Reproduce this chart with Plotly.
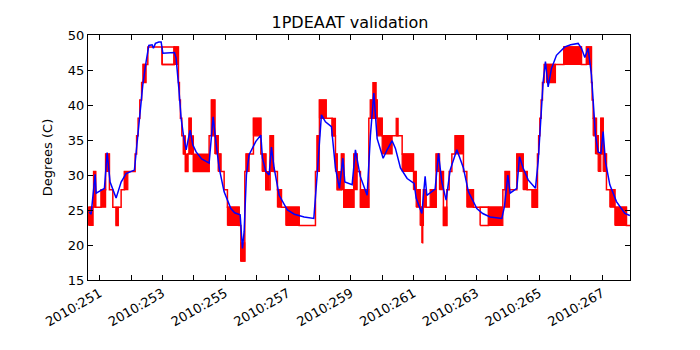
import plotly.graph_objects as go

# ---- data: telemetry (red, stepped) ----
red_day = [250.650, 250.809, 250.873, 251.048, 251.191, 251.312, 251.420, 251.525, 251.589, 251.685,
           251.790, 252.131, 252.178, 252.226, 252.280, 252.338, 252.385, 252.535, 252.990, 253.373,
           253.510, 253.541, 253.573, 253.618, 253.669, 253.732, 253.809, 253.850, 253.914, 253.987,
           254.487, 254.561, 254.669, 254.774, 254.860, 254.965, 255.070, 255.443, 255.497, 255.624,
           255.666, 255.898, 256.134, 256.293, 256.430, 256.535, 256.662, 256.790, 257.354, 257.873,
           257.927, 258.000, 258.213, 258.404, 258.510, 258.564, 258.701, 258.777, 259.096, 259.201,
           259.306, 259.573, 259.624, 259.838, 259.997, 260.634, 260.994, 261.080, 261.207, 261.312,
           261.398, 261.717, 261.822, 261.949, 262.057, 262.131, 262.217, 262.322, 262.586, 262.694,
           262.904, 263.841, 263.914, 264.051, 264.287, 264.487, 264.615, 264.774, 264.943, 264.981,
           265.019, 265.061, 265.102, 265.156, 265.783, 266.344, 266.503, 266.662, 266.685, 266.717,
           266.822, 266.876, 266.962, 267.035, 267.140, 267.408, 267.777, 267.895]
red_temp = [25.4, 30.5, 25.4, 27.9, 33.0, 27.9, 25.4, 22.8, 25.4, 27.9,
            30.5, 33.0, 35.6, 38.1, 40.7, 43.2, 45.8, 48.3, 45.8, 48.3,
            43.2, 40.7, 38.1, 35.6, 33.0, 30.5, 33.0, 38.1, 33.0, 30.5,
            35.6, 40.7, 35.6, 33.0, 30.5, 27.9, 25.4, 22.8, 17.7, 30.5,
            33.0, 38.1, 33.0, 27.9, 35.6, 30.5, 27.9, 25.4, 22.8, 30.5,
            35.6, 40.7, 38.1, 35.6, 33.0, 27.9, 33.0, 25.4, 33.0, 30.5,
            25.4, 38.1, 40.7, 38.1, 35.6, 33.0, 30.5, 27.9, 25.4, 27.9,
            25.4, 33.0, 30.5, 22.8, 27.9, 30.5, 33.0, 35.6, 30.5, 27.9,
            25.4, 27.9, 30.5, 27.9, 33.0, 30.5, 27.9, 25.4, 33.0, 35.6,
            38.1, 40.7, 43.2, 45.8, 48.3, 45.8, 48.3, 43.2, 40.7, 38.1,
            35.6, 33.0, 38.1, 33.0, 27.9, 25.4, 22.8, 22.8]

# intervals where telemetry toggles rapidly between two levels (solid red)
blk_start = [250.650, 250.809, 251.048, 251.191, 251.525, 251.790, 252.385, 253.373, 253.669, 253.732,
             253.850, 253.914, 253.987, 254.561, 254.669, 254.774, 255.070, 255.497, 255.666, 255.898,
             256.175, 256.293, 256.430, 256.662, 256.930, 257.927, 258.000, 258.404, 258.510, 258.564,
             258.701, 258.777, 259.096, 259.306, 259.624, 259.701, 259.838, 259.997, 260.443, 260.634,
             260.994, 261.080, 261.207, 261.261, 261.312, 261.525, 261.717, 261.822, 261.949, 262.322,
             262.694, 263.382, 263.914, 264.287, 264.487, 264.774, 265.229, 265.783, 266.503, 266.717,
             266.790, 266.876, 266.962, 267.035, 267.248, 267.408]
blk_end = [250.793, 250.873, 251.191, 251.312, 251.589, 251.898, 252.481, 253.500, 253.732, 253.809,
           253.914, 253.987, 254.487, 254.669, 254.774, 254.860, 255.443, 255.624, 255.761, 256.134,
           256.293, 256.398, 256.535, 256.790, 257.354, 258.000, 258.213, 258.510, 258.564, 258.701,
           258.777, 259.096, 259.201, 259.573, 259.838, 259.806, 259.997, 260.315, 260.506, 260.994,
           261.080, 261.207, 261.312, 261.293, 261.398, 261.717, 261.822, 261.949, 262.057, 262.586,
           262.904, 263.841, 264.051, 264.487, 264.615, 264.943, 265.516, 266.344, 266.662, 266.790,
           266.876, 266.962, 267.035, 267.140, 267.408, 267.777]
blk_low = [22.8, 25.4, 25.4, 30.5, 22.8, 27.9, 43.2, 45.8, 33.0, 30.5,
           33.0, 33.0, 30.5, 35.6, 33.0, 30.5, 22.8, 17.7, 30.5, 35.6,
           30.5, 27.9, 30.5, 25.4, 22.8, 30.5, 38.1, 35.6, 30.5, 27.9,
           27.9, 25.4, 27.9, 25.4, 38.1, 40.7, 35.6, 33.0, 35.6, 30.5,
           27.9, 25.4, 22.8, 20.3, 25.4, 25.4, 30.5, 27.9, 22.8, 33.0,
           25.4, 22.8, 25.4, 30.5, 27.9, 25.4, 43.2, 45.8, 45.8, 35.6,
           33.0, 30.5, 33.0, 30.5, 25.4, 22.8]
blk_high = [25.4, 30.5, 27.9, 33.0, 25.4, 30.5, 45.8, 48.3, 35.6, 33.0,
            38.1, 35.6, 33.0, 40.7, 35.6, 33.0, 25.4, 20.3, 33.0, 38.1,
            33.0, 30.5, 35.6, 27.9, 25.4, 35.6, 40.7, 38.1, 33.0, 30.5,
            33.0, 27.9, 33.0, 27.9, 40.7, 43.2, 38.1, 35.6, 38.1, 33.0,
            30.5, 27.9, 25.4, 22.8, 27.9, 27.9, 33.0, 30.5, 25.4, 35.6,
            27.9, 25.4, 30.5, 33.0, 30.5, 27.9, 45.8, 48.3, 48.3, 38.1,
            35.6, 33.0, 38.1, 33.0, 27.9, 25.4]

# intervals drawn at both levels only (outlined)
box_start = [252.990, 263.118]
box_end = [253.373, 263.382]
box_low = [45.8, 22.8]
box_high = [48.3, 25.4]

# ---- data: model (blue) ----
mod_day = [250.666, 250.729, 250.857, 250.889, 251.153, 251.239, 251.334, 251.525, 251.685, 251.844,
           252.108, 252.162, 252.268, 252.376, 252.481, 252.567, 252.672, 252.713, 252.777, 252.885,
           252.959, 253.013, 253.382, 253.436, 253.522, 253.596, 253.669, 253.755, 253.882, 253.968,
           254.073, 254.250, 254.487, 254.615, 254.701, 254.806, 254.965, 255.178, 255.300, 255.475,
           255.548, 255.602, 255.675, 255.761, 255.975, 256.134, 256.185, 256.293, 256.398, 256.471,
           256.557, 256.717, 256.981, 257.200, 257.513, 257.822, 257.927, 258.064, 258.191, 258.382,
           258.510, 258.637, 258.745, 258.809, 259.041, 259.146, 259.300, 259.519, 259.624, 259.732,
           259.838, 260.029, 260.156, 260.315, 260.420, 260.580, 260.793, 260.952, 261.016, 261.080,
           261.261, 261.366, 261.420, 261.685, 261.790, 261.898, 262.035, 262.162, 262.376, 262.586,
           262.745, 263.013, 263.200, 263.436, 263.809, 263.892, 264.000, 264.073, 264.287, 264.370,
           264.487, 264.646, 264.879, 264.965, 265.038, 265.124, 265.197, 265.283, 265.389, 265.548,
           265.815, 266.000, 266.239, 266.344, 266.452, 266.557, 266.662, 266.717, 266.790, 266.876,
           266.962, 267.035, 267.108, 267.248, 267.459, 267.726, 267.885]
mod_temp = [24.7, 24.4, 30.1, 27.4, 28.1, 33.2, 29.0, 26.7, 29.0, 30.2,
            30.7, 33.1, 38.3, 42.9, 46.2, 48.5, 48.6, 48.1, 48.8, 49.0,
            49.0, 47.4, 47.5, 46.7, 42.4, 38.1, 35.7, 33.6, 36.4, 34.3,
            33.3, 32.3, 31.7, 38.3, 34.8, 31.0, 27.6, 25.2, 24.6, 24.3,
            19.5, 21.9, 30.0, 32.9, 34.8, 35.7, 32.4, 30.5, 30.0, 34.0,
            31.0, 27.1, 25.0, 24.4, 24.0, 23.8, 30.0, 38.6, 37.6, 36.9,
            31.0, 28.1, 32.4, 29.0, 28.6, 33.6, 29.8, 27.1, 35.7, 41.7,
            35.2, 32.4, 33.6, 34.9, 33.8, 31.0, 29.5, 29.0, 28.8, 26.7,
            24.5, 29.8, 27.1, 28.0, 33.1, 29.0, 26.4, 30.7, 33.6, 31.0,
            27.6, 25.2, 24.5, 24.0, 23.8, 25.5, 30.0, 27.4, 28.1, 32.6,
            31.0, 29.3, 28.1, 31.9, 37.1, 43.3, 46.2, 42.6, 45.2, 47.1,
            48.3, 48.6, 48.8, 48.1, 46.8, 48.1, 44.3, 40.5, 35.7, 33.3,
            33.1, 36.2, 31.9, 28.6, 26.2, 24.5, 24.2]

tick_days = list(range(251, 268))
tick_text = [f"2010:{d}" if d % 2 == 1 else "" for d in tick_days]
y_ticks = [15, 20, 25, 30, 35, 40, 45, 50]


def rect_path(s, e, lo, hi):
    xs, ys = [], []
    for a, b, l, h in zip(s, e, lo, hi):
        xs += [a, b, b, a, a, None]
        ys += [l, l, h, h, l, None]
    return xs, ys


fig = go.Figure()
fig.add_trace(go.Scatter(x=red_day, y=red_temp, mode="lines", line=dict(color="#ff0000", width=1.5, shape="hv"),
                         hoverinfo="skip"))
bx, by = rect_path(blk_start, blk_end, blk_low, blk_high)
fig.add_trace(go.Scatter(x=bx, y=by, mode="lines", fill="toself", fillcolor="#ff0000",
                         line=dict(color="#ff0000", width=1.2), hoverinfo="skip"))
ox, oy = rect_path(box_start, box_end, box_low, box_high)
fig.add_trace(go.Scatter(x=ox, y=oy, mode="lines", line=dict(color="#ff0000", width=1.5), hoverinfo="skip"))
fig.add_trace(go.Scatter(x=mod_day, y=mod_temp, mode="lines", line=dict(color="#0000ff", width=1.5),
                         hoverinfo="skip"))

axis_common = dict(showline=True, linecolor="black", linewidth=1, mirror="ticks", ticks="inside",
                   ticklen=5, tickcolor="black", tickwidth=1, showgrid=False, zeroline=False,
                   tickfont=dict(family="DejaVu Sans", size=13, color="black"))
fig.update_layout(
    width=700, height=350,
    margin=dict(l=88, r=70, t=35, b=70),
    paper_bgcolor="white", plot_bgcolor="white",
    showlegend=False,
    title=dict(text="1PDEAAT validation", x=0.5, xanchor="center", y=1 - 22 / 350, yanchor="middle",
               yref="container", font=dict(family="DejaVu Sans", size=16, color="black")),
    xaxis=dict(range=[250.63, 267.89], tickvals=tick_days, ticktext=tick_text, tickangle=-30, **axis_common),
    yaxis=dict(range=[15, 50], tickvals=y_ticks, ticktext=[str(v) for v in y_ticks],
               title=dict(text="Degrees (C)", font=dict(family="DejaVu Sans", size=13, color="black"), standoff=12),
               **axis_common),
)
fig.write_html("out.html")
